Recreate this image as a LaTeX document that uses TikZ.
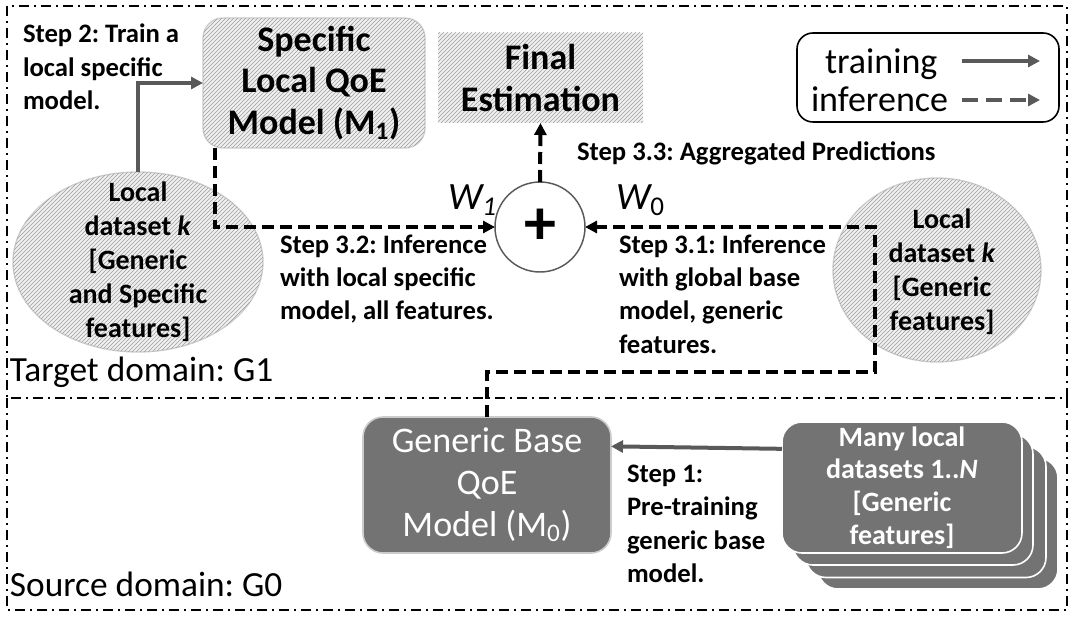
\documentclass[tikz,border=0pt]{standalone}
\usepackage{fontspec}
\setmainfont{Carlito}
\frenchspacing
\usetikzlibrary{arrows.meta,shapes.geometric,patterns}
\definecolor{QoeArrow}{RGB}{89,89,89}
\definecolor{QoeDark}{RGB}{115,115,115}
\definecolor{QoeHatchBg}{gray}{0.94}
\definecolor{QoeHatch}{gray}{0.62}
\definecolor{QoeEdge}{gray}{0.80}
\tikzset{
    qoe/diagram/.style={
        line join=miter,
        every node/.style={inner sep=0pt, outer sep=0pt}
    },
    qoe/region/.style={
        draw=black, line width=1.5pt,
        dash pattern=on 7.5pt off 3.75pt on 1.5pt off 3.75pt
    },
    qoe/hatched/.style={
        fill=QoeHatchBg,
        postaction={pattern=north east lines, pattern color=QoeHatch}
    },
    qoe/local/.style={
        qoe/hatched, draw=QoeEdge, line width=1pt, rounded corners=15pt,
        align=center, font=\fontsize{27}{31}\selectfont\bfseries
    },
    qoe/final/.style={
        qoe/hatched, align=center, font=\fontsize{27}{32}\selectfont\bfseries
    },
    qoe/dataset/.style={ellipse, qoe/hatched, draw=QoeEdge, line width=1pt},
    qoe/datatext/.style={align=center, font=\fontsize{21}{25.5}\selectfont\bfseries},
    qoe/base/.style={
        fill=QoeDark, draw=QoeEdge, line width=1.2pt, rounded corners=15pt,
        text=white, align=center, font=\fontsize{27}{31.5}\selectfont
    },
    qoe/stack/.style={
        fill=QoeDark, draw=white, line width=1.2pt, rounded corners=15pt,
        minimum width=180pt, minimum height=98.25pt
    },
    qoe/sum/.style={
        circle, draw=QoeArrow, line width=1.1pt, minimum size=67.5pt,
        font=\fontsize{48}{48}\selectfont\bfseries
    },
    qoe/legend/.style={draw=black, line width=1.2pt, rounded corners=12pt},
    qoe/legendtext/.style={font=\fontsize{27}{30}\selectfont},
    qoe/train/.style={
        draw=QoeArrow, line width=3pt,
        -{Triangle[length=9pt, width=9pt]}
    },
    qoe/infer/.style={
        draw=black, line width=3pt, dash pattern=on 9pt off 4.5pt,
        -{Triangle[length=9pt, width=9pt]}
    },
    qoe/step/.style={
        anchor=west, align=left, font=\fontsize{20}{25}\selectfont\bfseries
    },
    qoe/domain/.style={anchor=west, font=\fontsize{26.5}{30}\selectfont},
    qoe/weight/.style={anchor=west, font=\fontsize{29}{30}\selectfont}
}

\begin{document}
\begin{tikzpicture}[x=0.75pt, y=-0.75pt, qoe/diagram]
    \useasboundingbox (0,0) rectangle (1076,620);
    % Target and source domains.
    \draw[qoe/region] (7,6) rectangle (1067,398);
    \draw[qoe/region] (7,398) rectangle (1067,610);
    \node[qoe/domain] (target) at (10,372) {Target domain: G1};
    \node[qoe/domain] (source) at (10,584) {Source domain: G0};

    % Target side.
    \node[qoe/local, minimum width=166.5pt, minimum height=97.5pt] (specific)
        at (314,83) {Specific\\Local QoE\\Model (M\textsubscript{1})};
    \node[qoe/final, minimum width=153.75pt, minimum height=67.5pt] (final)
        at (540.5,78) {Final\\Estimation};
    \node[qoe/sum] (sum) at (540,227) {+};
    \node[qoe/dataset, minimum width=187.5pt, minimum height=135pt] (localL)
        at (138,262) {};
    \node[qoe/datatext] (localLtext) at (localL)
        {Local\\dataset \textit{k}\\[0pt][Generic\\and Specific\\features]};
    \node[qoe/dataset, minimum width=156pt, minimum height=138pt] (localR)
        at (937,270) {};
    \node[qoe/datatext] (localRtext) at (942,272)
        {Local\\dataset \textit{k}\\[0pt][Generic\\features]};

    % Legend.
    \node[qoe/legend, minimum width=196.5pt, minimum height=66.75pt] (legend)
        at (928,77.5) {};
    \node[qoe/legendtext, anchor=base west] (trainlbl) at (825,74) {training};
    \node[qoe/legendtext, anchor=base west] (inferlbl) at (811,112) {inference};
    \coordinate (trainfrom) at (962,61);
    \coordinate (trainto) at (1040,61);
    \coordinate (inferfrom) at (962,100);
    \coordinate (inferto) at (1040,100);
    \draw[qoe/train] (trainfrom) -- (trainto);
    \draw[qoe/infer, draw=QoeArrow, dash pattern=on 12pt off 6pt]
        (inferfrom) -- (inferto);

    % Source side: the stacked datasets, back to front.
    \foreach \cx/\cy [count=\i] in {938/523.5, 926/512, 913/499.5}
        \node[qoe/stack] (stack\i) at (\cx,\cy) {};
    \node[qoe/stack, text=white, align=center,
          font=\fontsize{21}{24.5}\selectfont\bfseries] (many)
        at (902,487.5) {Many local\\datasets 1..\textit{N}\\[0pt][Generic\\features]};
    \node[qoe/base, minimum width=186pt, minimum height=102pt] (base)
        at (487,485) {Generic Base\\QoE\\Model (M\textsubscript{0})};

    % Steps.
    \node[qoe/step] (step2) at (23,67) {Step 2: Train a\\local specific\\model.};
    \node[qoe/step] (step33) at (577,153) {Step 3.3: Aggregated Predictions};
    \node[qoe/step] (step32) at (280,279)
        {Step 3.2: Inference\\with local specific\\model, all features.};
    \node[qoe/step] (step31) at (619,294)
        {Step 3.1: Inference\\with global base\\model, generic\\features.};
    \node[qoe/step] (step1) at (627,524)
        {Step 1:\\Pre-training\\generic base\\model.};
    \node[qoe/weight] (w1) at (448,200) {\itshape W\textsubscript{1}};
    \node[qoe/weight] (w0) at (616,200) {{\itshape W}\textsubscript{0}};

    \coordinate (turn) at (875,372);
    \draw[qoe/train] (localL.north) |- (specific.west);
    \draw[qoe/infer] ([xshift=9pt]specific.south west) |- (sum.west);
    \draw[qoe/infer] (base.north) |- (turn) |- (sum.east);
    \draw[qoe/infer] (sum.north) -- (final.south);
    \draw[qoe/train] ([yshift=29pt]many.west) -- ([yshift=29pt]base.east);
\end{tikzpicture}
\end{document}
